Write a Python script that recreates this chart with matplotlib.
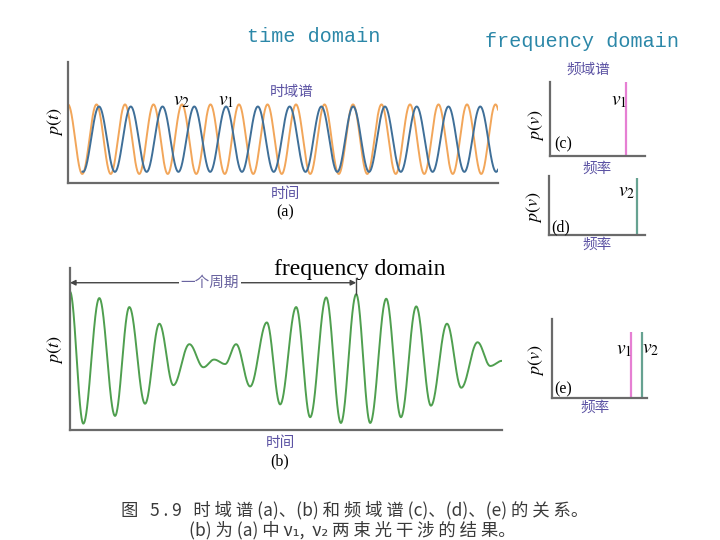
import numpy as np
import matplotlib
matplotlib.use("Agg")
import matplotlib.pyplot as plt

plt.rcParams['font.family'] = ['Noto Sans CJK SC', 'DejaVu Sans']
plt.rcParams['mathtext.fontset'] = 'stix'

# ----------------------------------------------------
# data (time axis in arbitrary units 0..43)
# ----------------------------------------------------
# (a) two single-frequency waves
period_v2, peak_v2, amp_v2, span_v2 = 2.85, 0.0, 1.00, (0.0, 43.0)    # orange
period_v1, peak_v1, amp_v1, span_v1 = 3.177, 3.1, 0.94, (1.45, 43.0)  # blue

# (b) interference signal: extrema (time, value)
beat_t = [0.0, 1.33, 2.93, 4.5, 5.93, 7.5, 8.93, 10.33, 11.93, 13.33,
          14.4, 15.5, 16.6, 18.0, 19.67, 21.0, 22.6, 24.0, 25.6, 27.07,
          28.6, 30.0, 31.6, 33.07, 34.6, 36.07, 37.67, 39.1, 40.73, 42.0, 43.17]
beat_p = [1.04, -1.02, 0.94, -0.90, 0.80, -0.71, 0.54, -0.42, 0.22, -0.14,
          -0.02, -0.09, 0.22, -0.44, 0.56, -0.72, 0.80, -0.92, 0.95, -1.01,
          1.00, -1.01, 0.93, -0.92, 0.81, -0.74, 0.54, -0.46, 0.25, -0.12, -0.04]

# (c)(d)(e) spectra
nu1, nu2 = 0.80, 0.92
height_c, height_d, height_e = 1.0, 1.0, 0.84

caption_1 = '图   5 . 9   时 域 谱 (a)、(b) 和 频 域 谱 (c)、(d)、(e) 的 关 系。'
caption_2 = '(b) 为 (a) 中 ν₁,  ν₂ 两 束 光 干 涉 的 结 果。'

orange = '#f2a65a'
blue = '#3f6f98'
green = '#4f9f4f'
pink = '#e67fd3'
teal = '#66a291'
axis_c = '#6a6a6a'
purple = '#5b52a3'
title_c = '#2b87a8'

W, H = 720, 540
fig = plt.figure(figsize=(7.2, 5.4), dpi=100)


def rect(l, t, r, b):
    return [l / W, 1 - b / H, (r - l) / W, (b - t) / H]


def ftext(x, y, s, **kw):
    kw.setdefault('ha', 'center')
    kw.setdefault('va', 'center')
    fig.text(x / W, 1 - y / H, s, **kw)


def style(ax):
    for side in ['top', 'right']:
        ax.spines[side].set_visible(False)
    for side in ['left', 'bottom']:
        ax.spines[side].set_color(axis_c)
        ax.spines[side].set_linewidth(1.6)
    ax.set_xticks([])
    ax.set_yticks([])
    ax.patch.set_alpha(0)


def smooth_through(ts, ps, n=60):
    xs, ys = [], []
    for i in range(len(ts) - 1):
        s = np.linspace(0, 1, n, endpoint=False)
        xs.append(ts[i] + (ts[i + 1] - ts[i]) * s)
        ys.append(ps[i] + (ps[i + 1] - ps[i]) * (1 - np.cos(np.pi * s)) / 2)
    xs.append([ts[-1]])
    ys.append([ps[-1]])
    return np.concatenate(xs), np.concatenate(ys)


# ----------------------------------------------------
# titles
# ----------------------------------------------------
ftext(314, 36, 'time domain', family='Liberation Mono', fontsize=14.5, color=title_c)
ftext(582, 42, 'frequency domain', family='Liberation Mono', fontsize=14.5, color=title_c)

# ----------------------------------------------------
# (a) time domain
# ----------------------------------------------------
ax_a = fig.add_axes(rect(68, 62, 498, 183))
style(ax_a)
t2 = np.linspace(*span_v2, 3000)
t1 = np.linspace(*span_v1, 3000)
ax_a.plot(t2, amp_v2 * np.cos(2 * np.pi * (t2 - peak_v2) / period_v2), color=orange, lw=1.4)
ax_a.plot(t1, amp_v1 * np.cos(2 * np.pi * (t1 - peak_v1) / period_v1), color=blue, lw=1.4)
ax_a.set_xlim(0, 43.0)
ax_a.set_ylim(-1.26, 2.22)

ftext(182, 100, '$v_2$', fontsize=14)
ftext(226, 100, '$v_1$', fontsize=14)
ftext(292, 92, '时域谱', fontsize=10.5, color=purple)
ftext(285, 194, '时间', fontsize=10.5, color=purple)
ftext(285, 212, '(a)', family='Liberation Serif', fontsize=11.5)
ftext(55, 122, '$p(t)$', fontsize=13, rotation=90)

# ----------------------------------------------------
# (b) interference
# ----------------------------------------------------
ax_b = fig.add_axes(rect(70, 268, 502, 430))
style(ax_b)
bx, by = smooth_through(beat_t, beat_p)
ax_b.plot(bx, by, color=green, lw=1.4)
ax_b.set_xlim(0, 43.17)
ax_b.set_ylim(-1.12, 1.41)

i_max = int(np.argmax(beat_p[1:])) + 1
t_end = beat_t[i_max]
ax_b.annotate('', xy=(0, 1.18), xytext=(t_end, 1.18),
              arrowprops=dict(arrowstyle='<|-|>', color='#444444', lw=1.0,
                              mutation_scale=8, shrinkA=0, shrinkB=0))
ax_b.plot([t_end, t_end], [1.26, beat_p[i_max]], color='#444444', lw=1.0)
ax_b.text(14.0, 1.18, '一个周期', ha='center', va='center', fontsize=10.5,
          color='#6a64a0', bbox=dict(facecolor='white', edgecolor='none', pad=1))

ftext(360, 270, 'frequency domain', family='Liberation Serif', fontsize=17)
ftext(280, 443, '时间', fontsize=10.5, color=purple)
ftext(280, 461, '(b)', family='Liberation Serif', fontsize=11.5)
ftext(55, 350, '$p(t)$', fontsize=13, rotation=90)

# ----------------------------------------------------
# (c) spectrum of v1
# ----------------------------------------------------
ax_c = fig.add_axes(rect(550, 82, 645, 156))
style(ax_c)
ax_c.vlines([nu1], 0, [height_c], color=pink, lw=1.6)
ax_c.set_xlim(0, 1)
ax_c.set_ylim(0, 1)
ftext(588, 70, '频域谱', fontsize=10.5, color=purple)
ftext(619, 100, '$v_1$', fontsize=14)
ftext(563, 144, '(c)', family='Liberation Serif', fontsize=11.5)
ftext(597, 169, '频率', fontsize=10.5, color=purple)
ftext(536, 125, r'$p(v)$', fontsize=13, rotation=90)

# ----------------------------------------------------
# (d) spectrum of v2
# ----------------------------------------------------
ax_d = fig.add_axes(rect(549, 176, 645, 235))
style(ax_d)
ax_d.vlines([nu2], 0, [height_d], color=teal, lw=1.6)
ax_d.set_xlim(0, 1.003)
ax_d.set_ylim(0, 1.03)
ftext(627, 191, '$v_2$', fontsize=14)
ftext(561, 227, '(d)', family='Liberation Serif', fontsize=11.5)
ftext(597, 245, '频率', fontsize=10.5, color=purple)
ftext(534, 207, r'$p(v)$', fontsize=13, rotation=90)

# ----------------------------------------------------
# (e) both lines
# ----------------------------------------------------
ax_e = fig.add_axes(rect(552, 319, 647, 398))
style(ax_e)
ax_e.vlines([nu1], 0, [height_e], color=pink, lw=1.6)
ax_e.vlines([nu2], 0, [height_e], color=teal, lw=1.6)
ax_e.set_xlim(-0.052, 0.974)
ax_e.set_ylim(0, 1)
ftext(624, 349, '$v_1$', fontsize=14)
ftext(651, 348, '$v_2$', fontsize=14)
ftext(563, 389, '(e)', family='Liberation Serif', fontsize=11.5)
ftext(595, 408, '频率', fontsize=10.5, color=purple)
ftext(536, 360, r'$p(v)$', fontsize=13, rotation=90)

# ----------------------------------------------------
# caption
# ----------------------------------------------------
ftext(355, 515, caption_1, fontsize=12.5, color='#3a3a3a', va='baseline')
ftext(352, 535, caption_2, fontsize=12.5, color='#3a3a3a', va='baseline')

fig.savefig('out.png', dpi=100, facecolor='white')
